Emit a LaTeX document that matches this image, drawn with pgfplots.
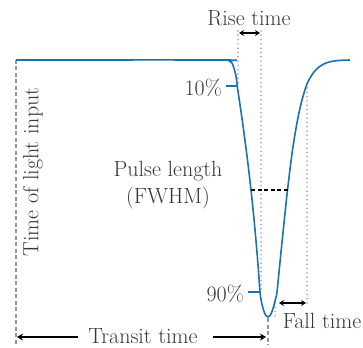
\documentclass[border=0pt]{standalone}
\usepackage{pgfplots}
\pgfplotsset{compat=1.18}
\usetikzlibrary{arrows.meta}
\definecolor{curve}{RGB}{25,115,175}
\definecolor{txt}{RGB}{55,55,55}
\definecolor{guide}{RGB}{150,150,150}
\begin{document}
\begin{tikzpicture}
\begin{axis}[hide axis, scale only axis, width=363pt, height=347pt,
  xmin=0, xmax=363, ymin=0, ymax=347, y dir=reverse, clip=false]
% guides
\addplot[guide, line width=1.2pt, dash pattern=on 4pt off 2.5pt] coordinates {(16,60) (16,345)};
\addplot[guide, line width=1.2pt, dash pattern=on 4pt off 2.5pt] coordinates {(268,318) (268,345)};
\pgfplotsset{dots/.style={guide, line width=1.7pt, line cap=round, dash pattern=on 0pt off 4.3pt}}
\addplot[dots] coordinates {(238,31) (238,86)};
\addplot[dots] coordinates {(261,31) (261,292)};
\addplot[dots] coordinates {(307,88) (307,303)};
\addplot[dots] coordinates {(275,303) (275,317)};
% curve
\addplot[curve, line width=1.6pt, smooth, tension=0.5] coordinates {
(16,60) (222,60) (229,60.8) (232,63) (234.5,70) (236.3,78) (237.5,88)
(239.3,100) (242.2,120) (244.9,140) (247.5,160) (251,190) (254.1,220) (256.8,250)
(258.4,270) (260,292) (261.5,302) (263.5,310) (265.8,315.5) (268,317)
(270.2,315.3) (272.2,311) (274,305) (275.7,298) (277,292)
(280.2,260) (284.3,220) (287.5,190) (292.5,150) (297.5,120) (302,100) (307,84)
(312.5,74) (319,67) (326,63) (334,61) (342,60.3) (350,60)};
% ticks
\addplot[curve, line width=1.4pt] coordinates {(226,86) (237.5,86)};
\addplot[curve, line width=1.4pt] coordinates {(248,292) (260,292)};
% FWHM
\addplot[black, line width=1.3pt, dash pattern=on 4pt off 2.5pt] coordinates {(251,190) (287.5,190)};
% arrows
\addplot[black, line width=1.6pt, {Stealth[length=5pt,width=6pt]}-{Stealth[length=5pt,width=6pt]}] coordinates {(239,33) (260,33)};
\addplot[black, line width=1.6pt, {Stealth[length=5pt,width=6pt]}-{Stealth[length=5pt,width=6pt]}] coordinates {(279,303) (306,303)};
\addplot[black, line width=1.8pt, -{Stealth[length=6pt,width=7pt]}] coordinates {(78,337) (17,337)};
\addplot[black, line width=1.8pt, -{Stealth[length=6pt,width=7pt]}] coordinates {(213,337) (266,337)};
% labels
\begin{scope}[every node/.style={text=txt, font=\fontsize{22}{27}\selectfont, inner sep=0pt}]
\node at (axis cs:249,18) {Rise time};
\node[anchor=east] at (axis cs:222,88) {10\%};
\node[anchor=east] at (axis cs:244,294) {90\%};
\node[align=center] at (axis cs:168,185) {Pulse length\\(FWHM)};
\node at (axis cs:322,321) {Fall time};
\node at (axis cs:143,336) {Transit time};
\node[rotate=90] at (axis cs:33,172) {Time of light input};
\end{scope}
\end{axis}
\pgfresetboundingbox
\path (current axis.south west) rectangle (current axis.north east);
\end{tikzpicture}
\end{document}
